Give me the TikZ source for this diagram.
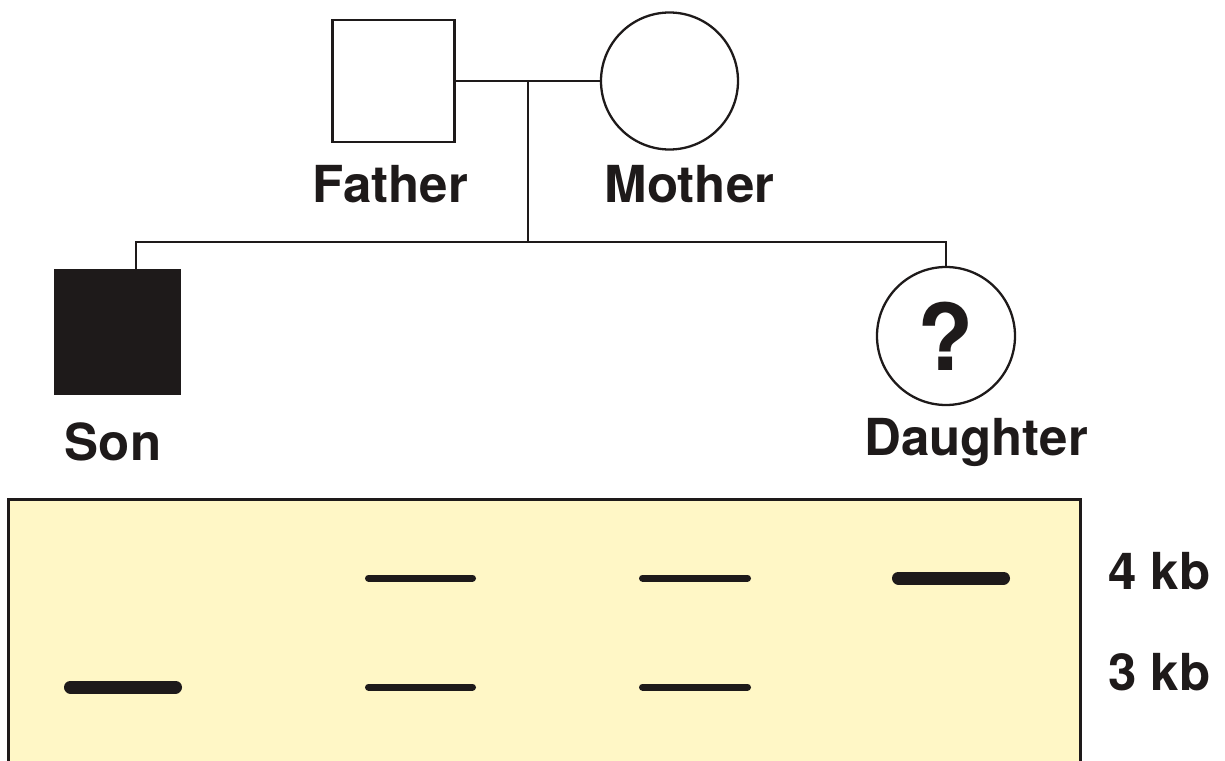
\documentclass[tikz,border=0pt]{standalone}
\usepackage{fontspec}
\setmainfont{TeX Gyre Heros}
\definecolor{gel}{RGB}{255,247,198}
\definecolor{ink}{RGB}{30,26,26}
\begin{document}
\begin{tikzpicture}[x=1bp,y=-1bp,
  ped/.style={draw=ink,line width=2.3bp},
  male/.style={ped,rectangle,minimum size=#1,inner sep=0pt},
  female/.style={ped,circle,minimum size=#1,inner sep=0pt},
  lbl/.style={font=\fontsize{51bp}{60bp}\selectfont\bfseries,text=ink,anchor=base,inner sep=0pt},
  thinband/.style={ink,line width=7bp,line cap=round},
  thickband/.style={ink,line width=13bp,line cap=round}]
\useasboundingbox (0,0) rectangle (1225,761);
% gel
\fill[gel] (8,499) rectangle (1080,761);
\draw[ink,line width=3bp] (8,761) -- (8,499) -- (1080,499) -- (1080,761);
% pedigree
\node[male=122bp] (father) at (393.5,81) {};
\node[female=137bp] (mother) at (669.5,81) {};
\node[male=124bp,fill=ink] (son) at (117.5,332) {};
\node[female=138bp] (daughter) at (946,336) {};
\node[font=\fontsize{92bp}{92bp}\selectfont\bfseries,text=ink,inner sep=0pt] (q) at (946,336) {?};
\coordinate (mid) at (528,81);
\coordinate (sib) at (528,242);
\coordinate (sonDrop) at (136,242);
\draw[ped] (father.east) -- (mother.west);
\draw[ped] (mid) -- (sib);
\draw[ped] (son.north -| sonDrop) -- (sonDrop) -- (daughter.north |- sonDrop) -- (daughter.north);
% labels
\node[lbl] (lf) at (390.5,202) {Father};
\node[lbl] (lm) at (689.5,202) {Mother};
\node[lbl] (ls) at (113,460) {Son};
\node[lbl] (ld) at (976,455) {Daughter};
\node[lbl,anchor=base west] (l4) at (1108,589) {4 kb};
\node[lbl,anchor=base west] (l3) at (1108,690) {3 kb};
% bands
\draw[thickband] (70.5,687) -- (175.5,687);
\draw[thinband] (368.5,578) -- (472.5,578);
\draw[thinband] (368.5,687) -- (472.5,687);
\draw[thinband] (642.5,578) -- (747.5,578);
\draw[thinband] (642.5,687) -- (747.5,687);
\draw[thickband] (898.5,578) -- (1003.5,578);
\end{tikzpicture}
\end{document}
